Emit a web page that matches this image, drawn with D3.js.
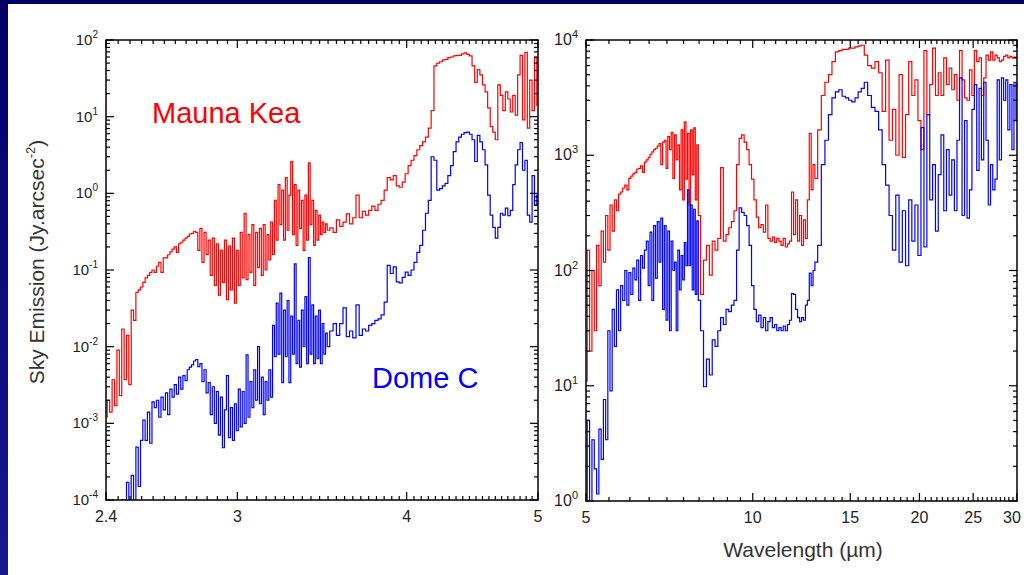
<!DOCTYPE html>
<html>
<head>
<meta charset="utf-8">
<script src="https://cdn.jsdelivr.net/npm/d3@7"></script>
<style>
  body { margin: 0; background: #000068; overflow: hidden; }
  svg { display: block; font-family: "Liberation Sans", Arial, sans-serif; }
</style>
</head>
<body>
<div id="root"></div>
<script>
const width = 1024;
const height = 575;

// ---- left panel, 2.4 - 5 um (Jy/arcsec^2) ----
const waveShort = [
  2.40, 2.41, 2.42, 2.43, 2.44, 2.45, 2.46, 2.47, 2.48, 2.49,
  2.50, 2.51, 2.52, 2.53, 2.54, 2.55, 2.56, 2.57, 2.58, 2.59,
  2.60, 2.61, 2.62, 2.63, 2.64, 2.65, 2.66, 2.67, 2.68, 2.69,
  2.70, 2.71, 2.72, 2.73, 2.74, 2.75, 2.76, 2.77, 2.78, 2.79,
  2.80, 2.81, 2.82, 2.83, 2.84, 2.85, 2.86, 2.87, 2.88, 2.89,
  2.90, 2.91, 2.92, 2.93, 2.94, 2.95, 2.96, 2.97, 2.98, 2.99,
  3.00, 3.01, 3.02, 3.03, 3.04, 3.05, 3.06, 3.07, 3.08, 3.09,
  3.10, 3.11, 3.12, 3.13, 3.14, 3.15, 3.16, 3.17, 3.18, 3.19,
  3.20, 3.21, 3.22, 3.23, 3.24, 3.25, 3.26, 3.27, 3.28, 3.29,
  3.30, 3.31, 3.32, 3.33, 3.34, 3.35, 3.36, 3.37, 3.38, 3.39,
  3.40, 3.41, 3.42, 3.43, 3.44, 3.45, 3.46, 3.47, 3.48, 3.49,
  3.50,
  3.52, 3.54, 3.56, 3.58, 3.60, 3.62, 3.64, 3.66, 3.68, 3.70,
  3.72, 3.74, 3.76, 3.78, 3.80, 3.82, 3.84, 3.86, 3.88, 3.90,
  3.92, 3.94, 3.96, 3.98, 4.00, 4.02, 4.04, 4.06, 4.08, 4.10,
  4.12, 4.14, 4.16, 4.18, 4.20, 4.22, 4.24, 4.26, 4.28, 4.30,
  4.32, 4.34, 4.36, 4.38, 4.40, 4.42, 4.44, 4.46, 4.48, 4.50,
  4.52, 4.54, 4.56, 4.58, 4.60, 4.62, 4.64, 4.66, 4.68, 4.70,
  4.72, 4.74, 4.76, 4.78, 4.80, 4.82, 4.84, 4.86, 4.88, 4.90,
  4.92, 4.94, 4.96, 4.98, 5.00
];
const maunaKeaShort = [
  1.2e-3, 2.0e-3, 1.4e-3, 3.7e-3, 1.7e-3, 9e-3, 2.3e-3, 1.7e-2, 3.7e-3, 1.4e-2,
  3.2e-3, 3.0e-2, 2.2e-2, 5.1e-2, 5.5e-2, 6.0e-2, 6.9e-2, 7.9e-2, 8.5e-2, 9.3e-2,
  0.100, 0.093, 0.112, 0.126, 0.093, 0.144, 0.144, 0.158, 0.172, 0.187,
  0.20, 0.17, 0.22, 0.23, 0.245, 0.26, 0.275, 0.295, 0.30, 0.32,
  0.31, 0.18, 0.35, 0.126, 0.31, 0.16, 0.245, 0.085, 0.26, 0.063,
  0.22, 0.047, 0.18, 0.069, 0.245, 0.041, 0.205, 0.055, 0.26, 0.037,
  0.18, 0.063, 0.31, 0.079, 0.55, 0.075, 0.29, 0.093, 0.39, 0.063,
  0.31, 0.107, 0.35, 0.085, 0.39, 0.10, 0.29, 0.135, 0.42, 0.16,
  0.81, 0.245, 1.3, 0.39, 1.1, 0.245, 1.6, 0.33, 0.95, 2.6,
  0.29, 1.3, 0.21, 1.1, 0.35, 0.81, 0.18, 0.95, 0.245, 2.5,
  0.39, 0.81, 0.21, 0.6, 0.245, 0.52, 0.29, 0.42, 0.31, 0.40,
  0.33,
  0.355, 0.31, 0.45, 0.37, 0.42, 0.54, 0.40, 0.48, 0.95, 0.48,
  0.58, 0.52, 0.6, 0.68, 0.6, 0.72, 0.81, 1.1, 1.6, 1.5,
  1.7, 1.25, 1.2, 1.4, 1.8, 2.3, 2.7, 3.1, 3.7, 4.2,
  4.7, 5.4, 7.1, 12, 46, 50, 52, 55, 56, 59,
  60, 62, 63, 63, 66, 68, 65, 62, 46, 28,
  41, 35, 26, 21, 13, 7.4, 6.3, 5.0, 26, 19,
  12, 21, 17, 11.5, 19, 10.5, 35, 63, 9.1, 69,
  7.1, 30, 12, 59, 14
];
const domeCShort = [
  3e-5, 3e-5, 3e-5, 3e-5, 3e-5, 3e-5, 3e-5, 1.0e-4, 3e-5, 1.7e-4,
  5e-5, 2.1e-4, 8e-5, 4.9e-4, 1.5e-4, 6e-4, 1.1e-3, 6e-4, 1.4e-3, 5.5e-4,
  1.9e-3, 1.6e-3, 2.0e-3, 1.2e-3, 2.2e-3, 1.5e-3, 2.5e-3, 1.3e-3, 2.8e-3, 2.2e-3,
  3.2e-3, 2.4e-3, 4.0e-3, 2.8e-3, 4.2e-3, 3.6e-3, 5.0e-3, 5.4e-3, 5.8e-3, 6.5e-3,
  6.8e-3, 5.5e-3, 6.0e-3, 3.5e-3, 5.0e-3, 2.5e-3, 3.4e-3, 1.3e-3, 3.0e-3, 1.0e-3,
  2.6e-3, 7e-4, 2.2e-3, 4.8e-4, 1.5e-3, 4.2e-3, 6.5e-4, 1.6e-3, 6e-4, 1.8e-3,
  8e-4, 2.8e-3, 9e-4, 2.6e-3, 1.0e-3, 7.8e-3, 1.2e-3, 3.5e-3, 1.6e-3, 5.0e-3,
  2.0e-3, 1.0e-2, 1.8e-3, 4.0e-3, 1.3e-3, 3.5e-3, 2.0e-3, 5e-3, 2.2e-3, 1.9e-2,
  7.4e-3, 3.7e-2, 8e-3, 5e-2, 3.4e-3, 3e-2, 7.4e-3, 4e-2, 3.4e-3, 2.5e-2,
  8e-3, 0.12, 6e-3, 2.2e-2, 5.4e-3, 3.0e-2, 1.0e-2, 4.5e-2, 6e-3, 0.145,
  8e-3, 3.5e-2, 6e-3, 2.5e-2, 7e-3, 3.0e-2, 6e-3, 2.0e-2, 8e-3, 1.5e-2,
  1.0e-2,
  1.6e-2, 2.0e-2, 1.4e-2, 2.0e-2, 3.2e-2, 1.35e-2, 1.6e-2, 1.3e-2, 3.5e-2, 1.4e-2,
  1.7e-2, 1.6e-2, 1.9e-2, 2.0e-2, 2.2e-2, 2.3e-2, 2.6e-2, 3.8e-2, 0.115, 0.09,
  0.11, 0.07, 0.068, 0.08, 0.094, 0.085, 0.10, 0.126, 0.17, 0.21,
  0.33, 0.55, 0.81, 3.0, 2.7, 1.1, 1.15, 1.25, 1.35, 1.7,
  2.3, 3.5, 4.7, 5.4, 5.9, 6.2, 6.3, 5.9, 5.0, 2.6,
  5.7, 4.7, 3.7, 2.35, 0.95, 0.52, 0.36, 0.26, 0.36, 0.55,
  0.52, 0.64, 0.51, 0.6, 1.3, 2.35, 3.7, 4.6, 2.0, 2.7,
  0.52, 0.42, 1.7, 0.7, 0.95
];

// ---- right panel, 5 - 30 um ----
const waveLong = [
  5.00, 5.05, 5.10, 5.15, 5.20, 5.25, 5.30, 5.35, 5.40, 5.45,
  5.50, 5.55, 5.60, 5.65, 5.70, 5.75, 5.80, 5.85, 5.90, 5.95,
  6.00, 6.05, 6.10, 6.15, 6.20, 6.25, 6.30, 6.35, 6.40, 6.45,
  6.50, 6.55, 6.60, 6.65, 6.70, 6.75, 6.80, 6.85, 6.90, 6.95,
  7.00, 7.05, 7.10, 7.15, 7.20, 7.25, 7.30, 7.35, 7.40, 7.45,
  7.50, 7.55, 7.60, 7.65, 7.70, 7.75, 7.80, 7.85, 7.90, 7.95,
  8.00,
  8.1, 8.2, 8.3, 8.4, 8.5, 8.6, 8.7, 8.8, 8.9, 9.0,
  9.1, 9.2, 9.3, 9.4, 9.5, 9.6, 9.7, 9.8, 9.9, 10.0,
  10.1, 10.2, 10.3, 10.4, 10.5, 10.6, 10.7, 10.8, 10.9, 11.0,
  11.1, 11.2, 11.3, 11.4, 11.5, 11.6, 11.7, 11.8, 11.9, 12.0,
  12.1, 12.2, 12.3, 12.4, 12.5, 12.6, 12.7, 12.8, 12.9, 13.0,
  13.2, 13.4, 13.6, 13.8, 14.0, 14.2, 14.4, 14.6, 14.8, 15.0,
  15.2, 15.4, 15.6, 15.8, 16.0,
  16.25, 16.5, 16.75, 17, 17.25, 17.5, 17.75, 18,
  18.25, 18.5, 18.75, 19, 19.25, 19.5, 19.75, 20,
  20.25, 20.5, 20.75, 21, 21.25, 21.5, 21.75, 22,
  22.25, 22.5, 22.75, 23, 23.25, 23.5, 23.75, 24,
  24.25, 24.5, 24.75, 25, 25.25, 25.5, 25.75, 26,
  26.25, 26.5, 26.75, 27, 27.25, 27.5, 27.75, 28,
  28.25, 28.5, 28.75, 29, 29.25, 29.5, 29.75, 30
];
const maunaKeaLong = [
  11, 150, 20, 100, 30, 165, 74, 220, 118, 300,
  150, 370, 220, 410, 330, 460, 480, 520, 550, 500,
  630, 660, 690, 710, 760, 770, 810, 710, 870, 910,
  960, 1020, 1070, 1120, 1150, 1200, 1260, 830, 1300, 1350,
  770, 1450, 1120, 1580, 630, 1500, 910, 1230, 500, 1660,
  410, 1950, 620, 1550, 370, 1660, 680, 1730, 410, 1230,
  300,
  62, 123, 165, 91, 180, 150, 190, 780, 180, 205,
  235, 265, 330, 830, 1400, 1500, 1300, 1120, 830, 620,
  410, 290, 235, 250, 215, 370, 190, 180, 195, 175,
  190, 180, 165, 190, 160, 170, 180, 480, 205, 410,
  180, 300, 165, 275, 190, 410, 1550, 500, 830, 630,
  1660, 3300, 4300, 5000, 6500, 7900, 8100, 8300, 8300, 8500,
  8500, 8700, 8900, 9000, 7400,
  6000, 5700, 6500, 5200, 2400, 6700, 1350, 2500,
  1000, 5000, 960, 2250, 6500, 3300, 4500, 2000,
  1120, 8100, 2250, 4100, 8500, 3300, 5200, 3300,
  7000, 4100, 5700, 3700, 5000, 3000, 8100, 4500,
  3150, 3000, 5500, 3300, 8100, 6500, 7000, 3300,
  4700, 7400, 6700, 7900, 6700, 7400, 7000, 6500,
  6700, 7200, 7400, 7000, 7200, 7000, 7100, 7000
];
const domeCLong = [
  0.8, 5, 0.9, 3.4, 1.9, 1.15, 4.2, 2.3, 7.6, 3.4,
  30, 9, 46, 22, 68, 30, 74, 55, 100, 50,
  96, 62, 105, 83, 123, 55, 135, 105, 150, 180,
  74, 215, 55, 245, 86, 265, 118, 285, 46, 245,
  37, 220, 30, 180, 100, 118, 30, 150, 68, 135,
  83, 175, 110, 500, 110, 370, 68, 340, 62, 270,
  55,
  30, 9.8, 17, 12.4, 25, 22, 30, 39, 34, 46,
  44, 50, 55, 150, 350, 320, 300, 245, 165, 74,
  46, 36, 41, 32, 39, 30, 36, 39, 32, 34,
  30, 32, 30, 33, 30, 34, 37, 63, 62, 46,
  39, 36, 39, 37, 50, 55, 95, 74, 100, 118,
  165, 830, 1350, 2250, 3150, 3550, 3700, 3250, 3150, 3000,
  2900, 3150, 3550, 3800, 4300,
  3300, 2600, 2400, 1660, 830, 550, 300, 150,
  450, 118, 330, 110, 410, 180, 370, 135,
  1740, 160, 2250, 410, 830, 220, 680, 1500,
  330, 1120, 450, 910, 330, 1350, 4700, 300,
  2000, 285, 500, 2500, 4100, 740, 3800, 910,
  4300, 1350, 370, 830, 500, 620, 4500, 910,
  4700, 3000, 4500, 1660, 4100, 1120, 4300, 2000
];

// axis ticks and labels
const shortTicks = [2.4, 3, 4, 5];
const shortTickLabels = ['2.4', '3', '4', '5'];
const longTicks = [5, 10, 15, 20, 25, 30];
const longTickLabels = ['5', '10', '15', '20', '25', '30'];
const shortDecades = [-4, -3, -2, -1, 0, 1, 2];
const longDecades = [0, 1, 2, 3, 4];

const svg = d3.select('#root')
  .append('svg')
  .attr('width', width)
  .attr('height', height);

const defs = svg.append('defs');
const grad = defs.append('linearGradient')
  .attr('id', 'navy')
  .attr('x1', 0).attr('y1', 0).attr('x2', 0).attr('y2', 1);
grad.append('stop').attr('offset', 0).attr('stop-color', '#000066');
grad.append('stop').attr('offset', 1).attr('stop-color', '#181890');

svg.append('rect').attr('width', width).attr('height', height).attr('fill', 'url(#navy)');
svg.append('rect')
  .attr('x', 8).attr('y', 4)
  .attr('width', width - 8).attr('height', height - 4)
  .attr('fill', '#ffffff');

function drawPanel(p) {
  const x = d3.scaleLog().domain(p.xDomain).range([p.left, p.right]);
  const y = d3.scaleLog().domain(p.yDomain).range([p.bottom, p.top]);
  const g = svg.append('g');

  defs.append('clipPath').attr('id', p.id)
    .append('rect')
    .attr('x', p.left).attr('y', p.top)
    .attr('width', p.right - p.left).attr('height', p.bottom - p.top);

  const line = d3.line()
    .x((d, i) => x(p.waves[i]))
    .y(d => y(d))
    .curve(d3.curveStep);

  p.series.forEach(s => {
    g.append('path')
      .datum(s.values)
      .attr('d', line)
      .attr('fill', 'none')
      .attr('stroke', s.color)
      .attr('stroke-width', 1.2)
      .attr('clip-path', `url(#${p.id})`);
  });

  // inward ticks on all four sides
  const ticks = g.append('g').attr('stroke', '#000').attr('stroke-width', 1.2);
  const xTick = (v, len) => {
    ticks.append('line').attr('x1', x(v)).attr('x2', x(v)).attr('y1', p.bottom).attr('y2', p.bottom - len);
    ticks.append('line').attr('x1', x(v)).attr('x2', x(v)).attr('y1', p.top).attr('y2', p.top + len);
  };
  const yTick = (v, len) => {
    ticks.append('line').attr('y1', y(v)).attr('y2', y(v)).attr('x1', p.left).attr('x2', p.left + len);
    ticks.append('line').attr('y1', y(v)).attr('y2', y(v)).attr('x1', p.right).attr('x2', p.right - len);
  };
  p.xMinor.forEach(v => xTick(v, 4));
  p.xMajor.forEach(v => xTick(v, 8));
  p.decades.forEach((d, i) => {
    yTick(10 ** d, 8);
    if (i < p.decades.length - 1) {
      d3.range(2, 10).forEach(k => yTick(k * 10 ** d, 4));
    }
  });

  g.append('rect')
    .attr('x', p.left).attr('y', p.top)
    .attr('width', p.right - p.left).attr('height', p.bottom - p.top)
    .attr('fill', 'none')
    .attr('stroke', '#000')
    .attr('stroke-width', 1.5);

  // tick labels (the last one is kept inside the page edge)
  g.selectAll('.xlab')
    .data(p.xMajor)
    .join('text')
    .attr('x', d => Math.min(x(d), width - 12))
    .attr('y', p.bottom + 22)
    .attr('text-anchor', 'middle')
    .attr('fill', '#222')
    .style('font-size', p.xFont + 'px')
    .text((d, i) => p.xLabels[i]);

  p.decades.forEach(d => {
    const t = g.append('text')
      .attr('x', p.left - 8)
      .attr('y', y(10 ** d) + 5)
      .attr('text-anchor', 'end')
      .attr('fill', '#222')
      .style('font-size', p.yFont + 'px');
    t.append('tspan').text('10');
    t.append('tspan').attr('dy', -7).style('font-size', (p.yFont - 5) + 'px').text(d);
  });
}

drawPanel({
  id: 'clipShort',
  left: 106, right: 538, top: 40, bottom: 500,
  xDomain: [2.4, 5], yDomain: [1e-4, 1e2],
  waves: waveShort,
  series: [
    { values: maunaKeaShort, color: '#ff0000' },
    { values: domeCShort, color: '#0000ff' }
  ],
  xMajor: shortTicks, xLabels: shortTickLabels,
  xMinor: d3.range(2.45, 4.99, 0.05).filter(v => Math.abs(v - 3) > 0.01 && Math.abs(v - 4) > 0.01),
  decades: shortDecades,
  xFont: 16, yFont: 15
});

drawPanel({
  id: 'clipLong',
  left: 586, right: 1017, top: 40, bottom: 501,
  xDomain: [5, 30], yDomain: [1, 1e4],
  waves: waveLong,
  series: [
    { values: maunaKeaLong, color: '#ff0000' },
    { values: domeCLong, color: '#0000ff' }
  ],
  xMajor: longTicks, xLabels: longTickLabels,
  xMinor: d3.range(5.5, 29.9, 0.5).filter(v => Math.abs(v / 5 - Math.round(v / 5)) > 0.01),
  decades: longDecades,
  xFont: 16, yFont: 16
});

// site labels
svg.append('text')
  .attr('x', 152).attr('y', 123)
  .attr('fill', '#ff0000')
  .style('font-size', '29px')
  .text('Mauna Kea');

svg.append('text')
  .attr('x', 372).attr('y', 388)
  .attr('fill', '#0000ff')
  .style('font-size', '29px')
  .text('Dome C');

// axis titles
const yTitle = svg.append('text')
  .attr('transform', 'translate(44,262) rotate(-90)')
  .attr('text-anchor', 'middle')
  .attr('fill', '#333')
  .style('font-size', '21px');
yTitle.append('tspan').text('Sky Emission (Jy.arcsec');
yTitle.append('tspan').attr('dy', -9).style('font-size', '13px').text('-2');
yTitle.append('tspan').attr('dy', 9).text(')');

svg.append('text')
  .attr('x', 803).attr('y', 557)
  .attr('text-anchor', 'middle')
  .attr('fill', '#333')
  .style('font-size', '21px')
  .text('Wavelength (\u00b5m)');
</script>
</body>
</html>
